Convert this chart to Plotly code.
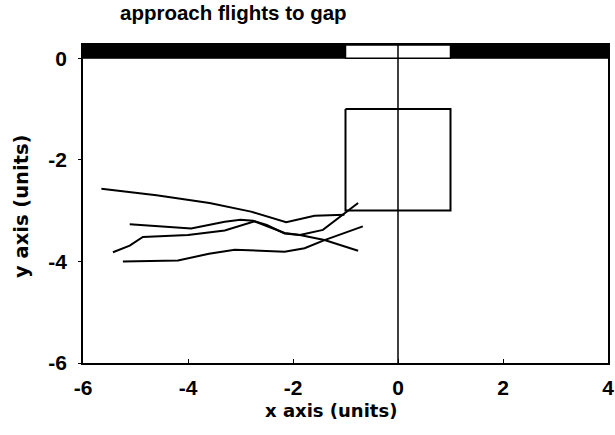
import plotly.graph_objects as go

# flight tracks (x, y in units)
flight_a_x = [-5.65, -4.6, -3.59, -2.8, -2.13, -1.59, -1.02]
flight_a_y = [-2.57, -2.70, -2.85, -3.02, -3.23, -3.10, -3.08]

flight_b_x = [-5.11, -4.5, -3.94, -3.3, -3.0, -2.76, -2.5, -2.16, -1.87, -1.40, -0.76]
flight_b_y = [-3.27, -3.31, -3.35, -3.22, -3.18, -3.20, -3.30, -3.44, -3.48, -3.58, -3.79]

flight_c_x = [-5.43, -5.11, -4.86, -4.0, -3.30, -2.73, -2.5, -2.16, -1.87, -1.43, -0.76]
flight_c_y = [-3.82, -3.69, -3.52, -3.48, -3.39, -3.21, -3.28, -3.45, -3.48, -3.38, -2.85]

flight_d_x = [-5.24, -4.19, -3.6, -3.11, -2.16, -1.78, -1.40, -0.67]
flight_d_y = [-4.00, -3.98, -3.85, -3.77, -3.81, -3.74, -3.58, -3.31]

flights = [(flight_a_x, flight_a_y), (flight_b_x, flight_b_y),
           (flight_c_x, flight_c_y), (flight_d_x, flight_d_y)]

# scene geometry
wall_x = [-6, 4]
wall_y = [0, 0.26]
gap_x = [-1, 1]
box_x = [-1, 1, 1, -1, -1]
box_y = [-1, -1, -3, -3, -1]
centre_x = [0, 0]
centre_y = [-6, 0.26]

x_ticks = [-6, -4, -2, 0, 2, 4]
y_ticks = [0, -2, -4, -6]

title_text = "approach flights to gap"
x_title = "x axis (units)"
y_title = "y axis (units)"

fig = go.Figure()

for fx, fy in flights:
    fig.add_trace(go.Scatter(x=fx, y=fy, mode="lines",
                             line=dict(color="black", width=2), showlegend=False,
                             hoverinfo="skip"))

fig.add_trace(go.Scatter(x=box_x, y=box_y, mode="lines",
                         line=dict(color="black", width=2), showlegend=False))
fig.add_trace(go.Scatter(x=centre_x, y=centre_y, mode="lines",
                         line=dict(color="black", width=1.5), showlegend=False))

# wall bar with gap
fig.add_shape(type="rect", x0=wall_x[0], x1=gap_x[0], y0=wall_y[0], y1=wall_y[1],
              fillcolor="black", line=dict(color="black", width=1), layer="below")
fig.add_shape(type="rect", x0=gap_x[1], x1=wall_x[1], y0=wall_y[0], y1=wall_y[1],
              fillcolor="black", line=dict(color="black", width=1), layer="below")
fig.add_shape(type="rect", x0=gap_x[0], x1=gap_x[1], y0=wall_y[0], y1=wall_y[1],
              fillcolor="white", line=dict(color="black", width=1.5), layer="below")

tick_family = "Liberation Sans, Arial, sans-serif"
label_family = "DejaVu Sans, sans-serif"

fig.update_layout(
    width=615, height=435,
    margin=dict(l=83, r=7, t=45, b=72, autoexpand=False),
    paper_bgcolor="white", plot_bgcolor="white",
    title=dict(text=f"<b>{title_text}</b>", x=120 / 615, xanchor="left",
               xref="container", yref="container",
               y=1 - 6 / 435, yanchor="top",
               font=dict(family=tick_family, size=20.5, color="black")),
    font=dict(family=tick_family, color="black"),
    annotations=[
        dict(text=f"<b>{x_title}</b>", xref="paper", yref="paper",
             x=0.472, y=-(410 - 363) / 318, xanchor="center", yanchor="middle",
             showarrow=False, font=dict(family=label_family, size=18, color="black")),
        dict(text=f"<b>{y_title}</b>", xref="paper", yref="paper",
             x=(21 - 83) / 525, y=(363 - 206) / 318, xanchor="center", yanchor="middle",
             textangle=-90,
             showarrow=False, font=dict(family=label_family, size=19.5, color="black")),
    ],
)

fig.update_xaxes(range=[-6, 4], tickvals=x_ticks,
                 ticktext=[f"<b>{v}</b>" for v in x_ticks],
                 tickfont=dict(size=21, family=tick_family),
                 showgrid=False, zeroline=False, showline=True, linecolor="black",
                 linewidth=1.5, mirror=True, ticks="inside", ticklen=4,
                 tickcolor="black", ticklabelstandoff=5)
fig.update_yaxes(range=[-6, 0.26], tickvals=y_ticks,
                 ticktext=[f"<b>{v}</b>" for v in y_ticks],
                 tickfont=dict(size=21, family=tick_family),
                 showgrid=False, zeroline=False, showline=True, linecolor="black",
                 linewidth=1.5, mirror=True, ticks="outside", ticklen=3,
                 tickcolor="black", ticklabelstandoff=7)

fig.write_html("out.html", config={"displayModeBar": False},
               post_script="document.body.style.margin='0';"
                           "document.body.style.overflow='hidden';")
